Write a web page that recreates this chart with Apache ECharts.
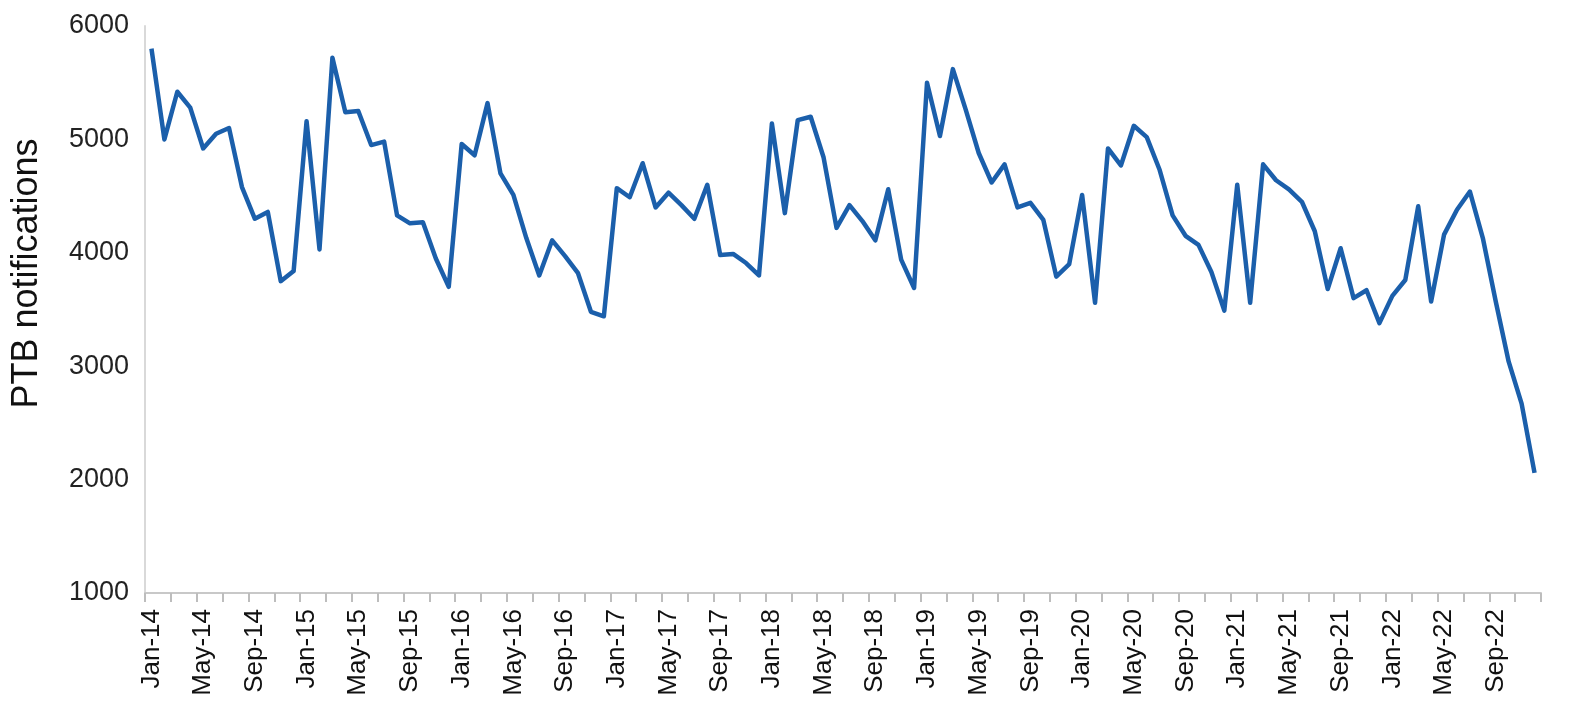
<!DOCTYPE html>
<html>
<head>
<meta charset="utf-8">
<title>PTB notifications</title>
<script src="https://cdn.jsdelivr.net/npm/echarts@6/dist/echarts.min.js"></script>
<style>
  html, body { margin: 0; padding: 0; background: #fff; }
  #chart { width: 1594px; height: 717px; }
</style>
</head>
<body>
<div id="chart"></div>
<script>
const monthNames = ['Jan', 'Feb', 'Mar', 'Apr', 'May', 'Jun', 'Jul', 'Aug', 'Sep', 'Oct', 'Nov', 'Dec'];
const years = ['14', '15', '16', '17', '18', '19', '20', '21', '22'];

// Jan-14 .. Dec-22, one label per month
const months = [];
years.forEach(function (y) {
    monthNames.forEach(function (m) { months.push(m + '-' + y); });
});

const notifications2014 = [5800, 5000, 5420, 5280, 4920, 5050, 5100, 4580, 4300, 4360, 3750, 3840];
const notifications2015 = [5160, 4030, 5720, 5240, 5250, 4950, 4980, 4330, 4260, 4270, 3950, 3700];
const notifications2016 = [4960, 4860, 5320, 4700, 4510, 4130, 3800, 4110, 3970, 3820, 3480, 3440];
const notifications2017 = [4570, 4490, 4790, 4400, 4530, 4420, 4300, 4600, 3980, 3990, 3910, 3800];
const notifications2018 = [5140, 4350, 5170, 5200, 4840, 4220, 4420, 4280, 4110, 4560, 3940, 3690];
const notifications2019 = [5500, 5030, 5620, 5260, 4880, 4620, 4780, 4400, 4440, 4290, 3790, 3900];
const notifications2020 = [4510, 3560, 4920, 4770, 5120, 5020, 4730, 4330, 4150, 4070, 3830, 3490];
const notifications2021 = [4600, 3560, 4780, 4640, 4560, 4450, 4190, 3680, 4040, 3600, 3670, 3380];
const notifications2022 = [3620, 3760, 4410, 3570, 4160, 4380, 4540, 4130, 3570, 3040, 2670, 2060];

const notifications = [].concat(
    notifications2014, notifications2015, notifications2016,
    notifications2017, notifications2018, notifications2019,
    notifications2020, notifications2021, notifications2022
);

const chart = echarts.init(document.getElementById('chart'));

chart.setOption({
    animation: false,
    backgroundColor: '#ffffff',
    textStyle: { fontFamily: 'Liberation Sans, Arial, sans-serif' },
    grid: { left: 145, right: 53, top: 26, bottom: 124 },
    xAxis: {
        type: 'category',
        data: months,
        boundaryGap: true,
        axisLine: { lineStyle: { color: '#c8c8c8', width: 2 } },
        axisTick: { show: true, interval: 1, length: 9, lineStyle: { color: '#bdbdbd', width: 2 } },
        axisLabel: {
            interval: 3,
            rotate: 90,
            margin: 16,
            color: '#111',
            fontSize: 26
        },
        splitLine: { show: false }
    },
    yAxis: {
        type: 'value',
        min: 1000,
        max: 6000,
        interval: 1000,
        name: 'PTB notifications',
        nameLocation: 'middle',
        nameGap: 100,
        // pushes the title up the axis, as in the original
        nameTextStyle: { color: '#111', fontSize: 36, padding: [0, 0, 0, 72] },
        axisLine: { show: true, lineStyle: { color: '#d9d9d9', width: 2 } },
        axisTick: { show: false },
        axisLabel: {
            color: '#222',
            fontSize: 27,
            margin: 16,
            formatter: function (v) { return String(v); }
        },
        splitLine: { show: false }
    },
    series: [{
        type: 'line',
        data: notifications,
        showSymbol: false,
        lineStyle: { color: '#1b5fab', width: 4.5, join: 'round' },
        itemStyle: { color: '#1b5fab' }
    }]
});
</script>
</body>
</html>
